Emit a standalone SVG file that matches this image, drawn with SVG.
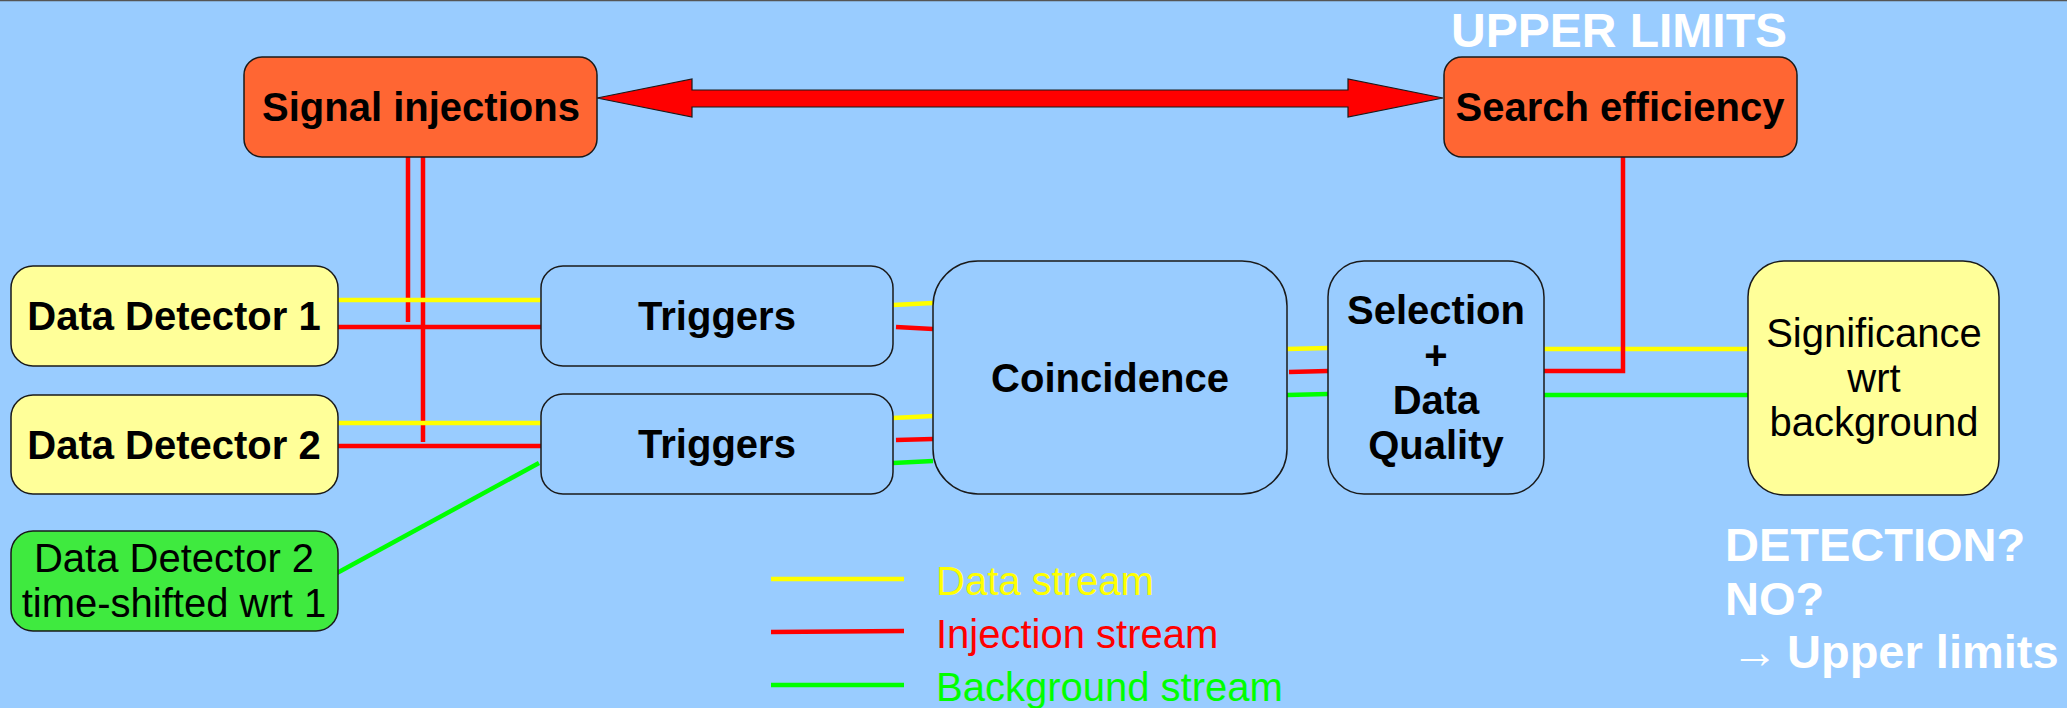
<svg xmlns="http://www.w3.org/2000/svg" width="2067" height="708" viewBox="0 0 2067 708">
<style>
.box{stroke:#1a1a1a;stroke-width:1.5}
.orange{fill:#ff6633}
.yel{fill:#ffff99}
.blue{fill:#99ccff}
.grn{fill:#3fea3f}
.bl{font-family:"Liberation Sans",Arial,sans-serif;font-weight:bold;font-size:40px;fill:#000;text-anchor:middle}
.rl{font-family:"Liberation Sans",Arial,sans-serif;font-size:40px;fill:#000;text-anchor:middle}
.wt{font-family:"Liberation Sans",Arial,sans-serif;font-weight:bold;font-size:47px;fill:#ffffff}
.lg{font-family:"Liberation Sans",Arial,sans-serif;font-size:40px}
.y{stroke:#ffff00;stroke-width:4.5;fill:none}
.r{stroke:#ff0000;stroke-width:4.5;fill:none}
.g{stroke:#00ff00;stroke-width:4.5;fill:none}
</style>
<rect x="0" y="0" width="2067" height="708" fill="#99ccff"/>
<line x1="0" y1="0.5" x2="2067" y2="0.5" stroke="#555" stroke-width="1.5"/>

<g id="connectors">
  <polygon points="597,98 692,79 692,90 1348,90 1348,79 1443,98 1348,117 1348,107 692,107 692,117" fill="#ff0000" stroke="#1a1a1a" stroke-width="1.2"/>
  <line class="r" x1="408" y1="157" x2="408" y2="322"/>
  <line class="r" x1="423" y1="157" x2="423" y2="442"/>
  <line class="y" x1="338" y1="300" x2="541" y2="300"/>
  <line class="r" x1="338" y1="327" x2="541" y2="327"/>
  <line class="y" x1="338" y1="423" x2="541" y2="423"/>
  <line class="r" x1="338" y1="446" x2="541" y2="446"/>
  <line class="g" x1="337" y1="573" x2="539" y2="463"/>
  <line class="y" x1="893" y1="305" x2="933" y2="303"/>
  <line class="r" x1="896" y1="327" x2="933" y2="329"/>
  <line class="y" x1="893" y1="418" x2="933" y2="416"/>
  <line class="r" x1="896" y1="440" x2="933" y2="439"/>
  <line class="g" x1="893" y1="463" x2="933" y2="461"/>
  <line class="y" x1="1287" y1="349" x2="1328" y2="348"/>
  <line class="r" x1="1289" y1="372" x2="1328" y2="371"/>
  <line class="g" x1="1287" y1="395" x2="1328" y2="394"/>
  <line class="y" x1="1544" y1="349" x2="1748" y2="349"/>
  <line class="g" x1="1544" y1="395" x2="1748" y2="395"/>
  <polyline class="r" points="1544,371 1623,371 1623,157"/>
  <line class="y" x1="771" y1="579" x2="904" y2="579"/>
  <line class="r" x1="771" y1="632" x2="904" y2="631"/>
  <line class="g" x1="771" y1="685" x2="904" y2="685"/>
</g>

<g id="signal-injections">
  <rect class="box orange" x="244" y="57" width="353" height="100" rx="18"/>
  <text class="bl" x="421" y="121">Signal injections</text>
</g>
<g id="search-efficiency">
  <rect class="box orange" x="1444" y="57" width="353" height="100" rx="18"/>
  <text class="bl" x="1620" y="121">Search efficiency</text>
</g>
<g id="upper-limits-label">
  <text class="wt" x="1619" y="47" text-anchor="middle" style="font-size:48px">UPPER LIMITS</text>
</g>
<g id="data-detector-1">
  <rect class="box yel" x="11" y="266" width="327" height="100" rx="22"/>
  <text class="bl" x="174" y="330">Data Detector 1</text>
</g>
<g id="data-detector-2">
  <rect class="box yel" x="11" y="395" width="327" height="99" rx="22"/>
  <text class="bl" x="174" y="459">Data Detector 2</text>
</g>
<g id="data-detector-2-shifted">
  <rect class="box grn" x="11" y="531" width="327" height="100" rx="22"/>
  <text class="rl" x="174" y="572">Data Detector 2</text>
  <text class="rl" x="174" y="617">time-shifted wrt 1</text>
</g>
<g id="triggers-1">
  <rect class="box blue" x="541" y="266" width="352" height="100" rx="22"/>
  <text class="bl" x="717" y="330">Triggers</text>
</g>
<g id="triggers-2">
  <rect class="box blue" x="541" y="394" width="352" height="100" rx="22"/>
  <text class="bl" x="717" y="458">Triggers</text>
</g>
<g id="coincidence">
  <rect class="box blue" x="933" y="261" width="354" height="233" rx="45"/>
  <text class="bl" x="1110" y="392">Coincidence</text>
</g>
<g id="selection">
  <rect class="box blue" x="1328" y="261" width="216" height="233" rx="36"/>
  <text class="bl" x="1436" y="324">Selection</text>
  <text class="bl" x="1436" y="369">+</text>
  <text class="bl" x="1436" y="414">Data</text>
  <text class="bl" x="1436" y="459">Quality</text>
</g>
<g id="significance">
  <rect class="box yel" x="1748" y="261" width="251" height="234" rx="36"/>
  <text class="rl" x="1874" y="347">Significance</text>
  <text class="rl" x="1874" y="392">wrt</text>
  <text class="rl" x="1874" y="436">background</text>
</g>
<g id="detection-label">
  <text class="wt" x="1725" y="561">DETECTION?</text>
  <text class="wt" x="1725" y="615">NO?</text>
  <text class="wt" x="1731" y="668"><tspan font-weight="normal">→</tspan><tspan x="1787">Upper limits</tspan></text>
</g>
<g id="legend">
  <text class="lg" x="936" y="595" fill="#ffff00">Data stream</text>
  <text class="lg" x="936" y="648" fill="#ff0000">Injection stream</text>
  <text class="lg" x="936" y="701" fill="#00ff00">Background stream</text>
</g>
</svg>
